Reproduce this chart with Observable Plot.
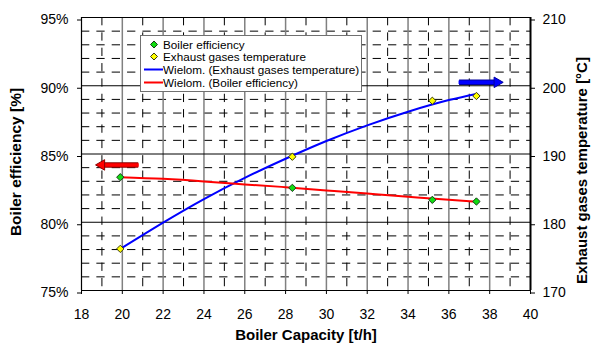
<!DOCTYPE html>
<html>
<head>
<meta charset="utf-8">
<script src="https://cdn.jsdelivr.net/npm/d3@7"></script>
<script src="https://cdn.jsdelivr.net/npm/@observablehq/plot@0.6"></script>
<style>
  body { margin: 0; background: #fff; }
  #wrap { position: relative; width: 591px; height: 347px; font-family: Arial, "Liberation Sans", sans-serif; }
  #legend { position: absolute; left: 140px; top: 35px; width: 220px; height: 55px; border: 1px solid #707070; background: #fff; font-size: 11.7px; color: #000; }
  #legend .row { position: absolute; left: 0; height: 13px; line-height: 13px; white-space: nowrap; }
  #legend .row svg { position: absolute; left: 2px; top: 0; }
  #legend .row span { position: absolute; left: 22px; top: 0; }
</style>
</head>
<body>
<div id="wrap"><div id="legend"></div></div>
<script>
// ---- data ----
const capacity    = [19.9, 28.33, 35.19, 37.35];          // t/h
const efficiency  = [83.3, 82.52, 81.64, 81.52];          // %
const temperature = [176.1, 189.6, 197.8, 198.5];         // °C

// polynomial trend lines
const trendX        = [19.9, 22, 24, 26, 28, 30, 32, 34, 36, 37.35];
const effTrendY     = [83.3, 83.18, 82.99, 82.77, 82.57, 82.33, 82.1, 81.86, 81.64, 81.5];
const tempTrendY    = [176.1, 179.95, 183.4, 186.5, 189.3, 191.9, 194.2, 196.2, 197.9, 198.8];

const xTicks    = [18, 20, 22, 24, 26, 28, 30, 32, 34, 36, 38, 40];
const effTicks  = [75, 80, 85, 90, 95];
const tempTicks = [170, 180, 190, 200, 210];

const seriesNames = ["Boiler efficiency", "Exhaust gases temperature",
                     "Wielom. (Exhaust gases temperature)", "Wielom. (Boiler efficiency)"];
const axisTitles = {x: "Boiler Capacity [t/h]", left: "Boiler efficiency [%]", right: "Exhaust gases temperature [°C]"};

// annotation arrows (data units): efficiency arrow points to left axis, temperature arrow to right axis
const effArrow  = {from: 20.78, to: 18.73, level: 84.2};
const tempArrow = {from: 36.5,  to: 38.62, level: 200.5};

// ---- helpers ----
const toY   = t => 75 + (t - 170) / 2;      // temperature -> efficiency-scale position
const fromY = y => Math.round(170 + (y - 75) * 2);

const points = capacity.map((c, i) => ({c, eff: efficiency[i], temp: temperature[i]}));
const trend  = trendX.map((c, i) => ({c, eff: effTrendY[i], temp: toY(tempTrendY[i])}));
const minorX = d3.range(19, 40, 2);
const majorX = d3.range(20, 40, 2);
const minorY = d3.range(76, 95).filter(v => v % 5 !== 0);
const majorY = [80, 85, 90, 95];

const arrowData = [
  {...effArrow, y: effArrow.level},
  {...tempArrow, y: toY(tempArrow.level)}
];
const headBase = d => d.to + (d.from > d.to ? 0.33 : -0.33);
const dash = "8.3,7.05";

const chart = Plot.plot({
  width: 591, height: 347,
  marginLeft: 81, marginRight: 61, marginTop: 17, marginBottom: 57,
  style: {fontFamily: "Arial, 'Liberation Sans', sans-serif", fontSize: "14px", color: "#000", background: "#fff"},
  x: {domain: [18, 40]},
  y: {domain: [75, 95]},
  marks: [
    Plot.ruleY(minorY, {stroke: "#000", strokeWidth: 1, strokeDasharray: dash}),
    Plot.ruleX(minorX, {stroke: "#000", strokeWidth: 1, strokeDasharray: dash}),
    Plot.ruleX(majorX, {stroke: "#808080", strokeWidth: 1.5}),
    Plot.ruleY(majorY, {stroke: "#000", strokeWidth: 1}),
    Plot.ruleX([18], {stroke: "#000", strokeWidth: 1.2}),
    Plot.ruleX([40], {stroke: "#000", strokeWidth: 2}),
    Plot.ruleY([75], {stroke: "#000", strokeWidth: 1.2}),
    Plot.axisX(xTicks, {tickSize: 4, tickPadding: 15, label: null, fontSize: 14}),
    Plot.axisY(effTicks, {anchor: "left", tickFormat: d => d + "%", tickSize: 4, tickPadding: 9, dy: 2.5, label: null, fontSize: 14}),
    Plot.axisY(tempTicks.map(toY), {anchor: "right", tickFormat: fromY, tickSize: 4, tickPadding: 8, dy: 2.5, label: null, fontSize: 14}),
    Plot.line(trend, {x: "c", y: "temp", stroke: "#0000ff", strokeWidth: 2, curve: "natural"}),
    Plot.line(trend, {x: "c", y: "eff", stroke: "#ff0000", strokeWidth: 2, curve: "natural"}),
    Plot.dot(points, {x: "c", y: "eff", symbol: "diamond2", r: 3.3, fill: "#11dd11", stroke: "#1a3a1a", strokeWidth: 1}),
    Plot.dot(points, {x: "c", y: d => toY(d.temp), symbol: "diamond2", r: 3.3, fill: "#ffff00", stroke: "#3a3a10", strokeWidth: 1}),
    // arrows
    Plot.link([arrowData[0]], {x1: "from", x2: headBase, y1: "y", y2: "y", stroke: "#8b0000", strokeWidth: 5.5}),
    Plot.link([arrowData[0]], {x1: "from", x2: headBase, y1: "y", y2: "y", stroke: "#ff0000", strokeWidth: 3.5, dx: 0.5}),
    Plot.dot([arrowData[0]], {x: "to", y: "y", symbol: "triangle", rotate: -90, r: 3.9, dx: 5.2, fill: "#ff0000", stroke: "#8b0000", strokeWidth: 1}),
    Plot.link([arrowData[1]], {x1: "from", x2: headBase, y1: "y", y2: "y", stroke: "#0000a0", strokeWidth: 5.5}),
    Plot.link([arrowData[1]], {x1: "from", x2: headBase, y1: "y", y2: "y", stroke: "#0000ff", strokeWidth: 3.5, dx: -0.5}),
    Plot.dot([arrowData[1]], {x: "to", y: "y", symbol: "triangle", rotate: 90, r: 3.9, dx: -5.2, fill: "#0000ff", stroke: "#0000a0", strokeWidth: 1}),
    // axis titles
    Plot.text([axisTitles.x], {frameAnchor: "bottom", textAnchor: "middle", dy: 49.5, fontWeight: "bold", fontSize: 15}),
    Plot.text([axisTitles.left], {frameAnchor: "left", textAnchor: "middle", rotate: -90, dx: -65.3, dy: 8, fontWeight: "bold", fontSize: 15.5}),
    Plot.text([axisTitles.right], {frameAnchor: "right", textAnchor: "middle", rotate: -90, dx: 51.7, dy: 16.5, fontWeight: "bold", fontSize: 15})
  ]
});
document.getElementById("wrap").insertBefore(chart, document.getElementById("legend"));

// legend
const swatches = [
  '<svg width="20" height="13"><path d="M11,3 L14.5,6.5 L11,10 L7.5,6.5Z" fill="#11dd11" stroke="#1a3a1a"/></svg>',
  '<svg width="20" height="13"><path d="M11,3 L14.5,6.5 L11,10 L7.5,6.5Z" fill="#ffff00" stroke="#3a3a10"/></svg>',
  '<svg width="20" height="13"><line x1="1" x2="20" y1="6.5" y2="6.5" stroke="#0000ff" stroke-width="2"/></svg>',
  '<svg width="20" height="13"><line x1="1" x2="20" y1="6.5" y2="6.5" stroke="#ff0000" stroke-width="2"/></svg>'
];
const legend = document.getElementById("legend");
seriesNames.forEach((name, i) => {
  const row = document.createElement("div");
  row.className = "row";
  row.style.top = (1.5 + i * 12.7) + "px";
  row.innerHTML = swatches[i] + "<span></span>";
  row.querySelector("span").textContent = name;
  legend.appendChild(row);
});
</script>
</body>
</html>
